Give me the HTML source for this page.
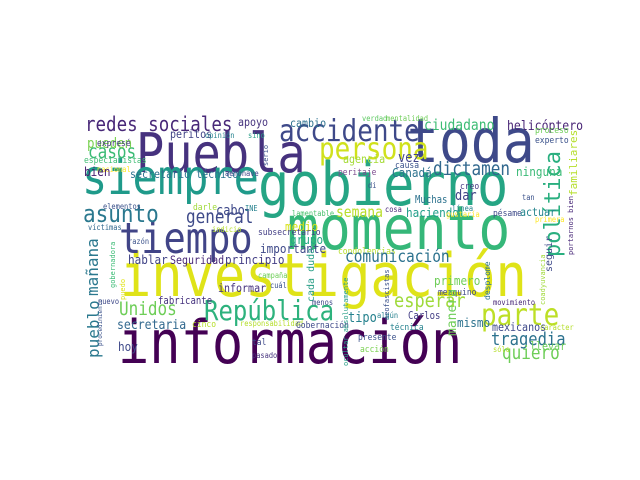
<!DOCTYPE html>
<html><head><meta charset="utf-8"><style>
html,body{margin:0;padding:0;background:#fff;width:640px;height:480px;overflow:hidden}
svg text{font-family:"DejaVu Sans Mono","Liberation Mono",monospace}
</style></head><body>
<svg width="640" height="480" viewBox="0 0 640 480" xmlns="http://www.w3.org/2000/svg">
<rect x="80" y="113" width="480" height="257" fill="#fff"/>
<g id="words">
<text x="118" y="363" font-size="52" fill="#440154">información</text>
<text x="120" y="296" font-size="52" fill="#dfe318">investigación</text>
<text x="258" y="205" font-size="52" fill="#25a584">gobierno</text>
<text x="136" y="172" font-size="47" fill="#46327e">Puebla</text>
<text x="407" y="162" font-size="53" fill="#3e4989">toda</text>
<text x="287" y="249" font-size="53" fill="#35b779">momento</text>
<text x="82" y="194" font-size="42" fill="#1f9a8a">siempre</text>
<text x="119" y="253" font-size="37" fill="#414487">tiempo</text>
<text x="481" y="325" font-size="26" fill="#bddf26">parte</text>
<text x="204" y="320" font-size="24" fill="#2db27d">República</text>
<text x="279" y="141" font-size="26" fill="#3e4989">accidente</text>
<text x="319" y="159" font-size="26" fill="#d0e11c">persona</text>
<text transform="translate(560,257) rotate(-90)" font-size="22" fill="#29af7f">política</text>
<text x="433" y="175" font-size="16" fill="#31688e">dictamen</text>
<text x="85" y="131" font-size="17.5" fill="#482878">redes sociales</text>
<text x="83" y="222" font-size="21" fill="#2a788e">asunto</text>
<text x="186" y="223" font-size="16" fill="#3e4a89">general</text>
<text x="88" y="158" font-size="16" fill="#3bbb75">casos</text>
<text x="87" y="148" font-size="12.5" fill="#7ad151">pueden</text>
<text x="238" y="126" font-size="10" fill="#46337e">apoyo</text>
<text x="290" y="127" font-size="10" fill="#2d708e">cambio</text>
<text x="170" y="138" font-size="10" fill="#414487">peritos</text>
<text x="205" y="138" font-size="7" fill="#26828e">opinión</text>
<text x="248" y="138" font-size="7" fill="#2a9f88">sino</text>
<text x="97" y="146" font-size="8" fill="#453781">expresé</text>
<text x="84" y="163" font-size="8" fill="#3fbc73">especialistas</text>
<text x="97" y="172" font-size="7" fill="#fde725">nacional</text>
<text x="84" y="176" font-size="11" fill="#481f70">bien</text>
<text x="130" y="178" font-size="10" fill="#2c728e">secretario técnico</text>
<text x="225" y="176" font-size="7" fill="#404688">aeronave</text>
<text transform="translate(268,166) rotate(-90)" font-size="7" fill="#3b528b">serio</text>
<text x="103" y="209" font-size="7" fill="#3b528b">elementos</text>
<text x="193" y="210" font-size="8" fill="#a0da39">darle</text>
<text x="216" y="215" font-size="12" fill="#3e4989">cabo</text>
<text x="245" y="211" font-size="7" fill="#26828e">INE</text>
<text x="285" y="231" font-size="11" fill="#d8e219">medio</text>
<text x="292" y="216" font-size="7" fill="#4ac16d">lamentable</text>
<text x="88" y="230" font-size="7" fill="#31688e">víctimas</text>
<text x="212" y="232" font-size="7" fill="#b5de2b">indicio</text>
<text x="258" y="235" font-size="8" fill="#433e85">subsecretario</text>
<text x="290" y="244" font-size="11" fill="#22a884">grupo</text>
<text x="362" y="121" font-size="7" fill="#5ec962">verdad</text>
<text x="386" y="121" font-size="7" fill="#6ece58">mentalidad</text>
<text x="424" y="130" font-size="13" fill="#3dbc74">ciudadano</text>
<text x="507" y="130" font-size="11.5" fill="#482475">helicóptero</text>
<text x="535" y="133" font-size="8" fill="#6ece58">proceso</text>
<text x="535" y="143" font-size="8" fill="#3b528b">experto</text>
<text x="398" y="162" font-size="12" fill="#414487">vez</text>
<text x="343" y="163" font-size="10" fill="#a5db36">agencia</text>
<text x="395" y="168" font-size="8" fill="#3b528b">causa</text>
<text x="392" y="177" font-size="11" fill="#2c728e">Canadá</text>
<text x="338" y="175" font-size="8" fill="#7e4e90">peritaje</text>
<text x="516" y="176" font-size="11" fill="#3aba76">ninguna</text>
<text x="368" y="188" font-size="7" fill="#3b528b">di</text>
<text x="460" y="189" font-size="8" fill="#453882">creo</text>
<text x="455" y="200" font-size="12" fill="#414487">dar</text>
<text x="415" y="203" font-size="9" fill="#2c728e">Muchas</text>
<text x="522" y="200" font-size="7" fill="#3b528b">tan</text>
<text x="452" y="211" font-size="7" fill="#26828e">línea</text>
<text x="336" y="217" font-size="13" fill="#b8de29">semana</text>
<text x="385" y="212" font-size="7" fill="#482878">cosa</text>
<text x="406" y="217" font-size="11" fill="#1f9e89">haciendo</text>
<text x="446" y="217" font-size="7" fill="#fde725">gustaría</text>
<text x="493" y="216" font-size="8" fill="#3e4a89">pésame</text>
<text x="520" y="216" font-size="10" fill="#25858e">actuar</text>
<text x="535" y="222" font-size="7" fill="#fde725">primera</text>
<text transform="translate(577,196) rotate(-90)" font-size="11" fill="#b5de2b">familiares</text>
<text transform="translate(573,255) rotate(-90)" font-size="7" fill="#482878">portarnos bien</text>
<text transform="translate(552,272) rotate(-90)" font-size="10" fill="#3e4989">seguir</text>
<text x="128" y="244" font-size="7" fill="#3b528b">razón</text>
<text x="260" y="253" font-size="11" fill="#3e4989">importante</text>
<text x="128" y="264" font-size="11" fill="#414487">hablar</text>
<text x="170" y="264" font-size="10" fill="#482878">Seguridad</text>
<text x="225" y="264" font-size="11" fill="#433e85">principio</text>
<text transform="translate(98,296) rotate(-90)" font-size="16" fill="#2a788e">mañana</text>
<text transform="translate(115,288) rotate(-90)" font-size="7" fill="#3bbb75">gobernadora</text>
<text transform="translate(125,300) rotate(-90)" font-size="7" fill="#dfe318">puedo</text>
<text x="258" y="278" font-size="7" fill="#6ece58">campaña</text>
<text transform="translate(314,302) rotate(-90)" font-size="10" fill="#2a9f88">cada duda</text>
<text x="270" y="288" font-size="7" fill="#3b528b">cuál</text>
<text x="218" y="292" font-size="10" fill="#46337e">informar</text>
<text x="98" y="304" font-size="7" fill="#3e4989">nuevo</text>
<text x="158" y="304" font-size="9" fill="#46337e">fabricante</text>
<text x="119" y="315" font-size="16" fill="#6ece58">Unidos</text>
<text transform="translate(99,358) rotate(-90)" font-size="16" fill="#2a788e">pueblo</text>
<text transform="translate(102,346) rotate(-90)" font-size="6" fill="#3b528b">procedimiento</text>
<text x="117" y="329" font-size="11.5" fill="#31688e">secretaria</text>
<text x="192" y="327" font-size="8" fill="#b5de2b">cinco</text>
<text x="240" y="326" font-size="7" fill="#b5de2b">responsabilidad</text>
<text x="296" y="328" font-size="8" fill="#3e4989">Gobernación</text>
<text x="312" y="305" font-size="7" fill="#3e4989">menos</text>
<text x="118" y="351" font-size="11" fill="#3e4989">hoy</text>
<text x="252" y="345" font-size="8" fill="#3e4989">tal</text>
<text x="252" y="358" font-size="7" fill="#46337e">pasado</text>
<text x="338" y="254" font-size="8" fill="#b5de2b">condolencias</text>
<text x="345" y="262" font-size="14.5" fill="#2c728e">comunicación</text>
<text x="434" y="285" font-size="11" fill="#6ece58">primero</text>
<text x="438" y="295" font-size="8" fill="#3e4989">mezquino</text>
<text transform="translate(490,300) rotate(-90)" font-size="8" fill="#2c728e">desplome</text>
<text transform="translate(545,305) rotate(-90)" font-size="7" fill="#a0da39">coadyuvancia</text>
<text transform="translate(389,320) rotate(-90)" font-size="7" fill="#3b528b">neofascistas</text>
<text x="394" y="307" font-size="17" fill="#9fda3a">esperar</text>
<text x="493" y="305" font-size="7" fill="#482878">movimiento</text>
<text x="348" y="322" font-size="12" fill="#26828e">tipo</text>
<text x="377" y="318" font-size="7" fill="#26828e">algún</text>
<text x="408" y="319" font-size="9" fill="#433e85">Carlos</text>
<text transform="translate(456,336) rotate(-90)" font-size="13" fill="#6ece58">manera</text>
<text x="457" y="327" font-size="11" fill="#2c728e">mismo</text>
<text x="390" y="330" font-size="8" fill="#26828e">técnica</text>
<text transform="translate(348,366) rotate(-90)" font-size="7" fill="#2a9f88">ocultar absolutamente</text>
<text x="492" y="331" font-size="10" fill="#3e4989">mexicanos</text>
<text x="540" y="330" font-size="7" fill="#b5de2b">carácter</text>
<text x="491" y="345" font-size="15.5" fill="#2c728e">tragedia</text>
<text x="358" y="340" font-size="8" fill="#3b528b">presente</text>
<text x="502" y="359" font-size="16" fill="#6ece58">quiero</text>
<text x="530" y="350" font-size="10" fill="#6ece58">llevar</text>
<text x="360" y="352" font-size="8" fill="#7ad151">acción</text>
<text x="493" y="352" font-size="7" fill="#b5de2b">sólo</text>
</g>
</svg>
<script>
var STRETCH = 1.15;
var texts = document.querySelectorAll('#words text');
texts.forEach(function(t){
  if (t.hasAttribute('transform')) return;
  var x = parseFloat(t.getAttribute('x')), y = parseFloat(t.getAttribute('y'));
  t.setAttribute('transform', 'translate(' + x + ' ' + y + ') scale(1 ' + STRETCH + ') translate(' + (-x) + ' ' + (-y) + ')');
});
</script>
</body></html>
